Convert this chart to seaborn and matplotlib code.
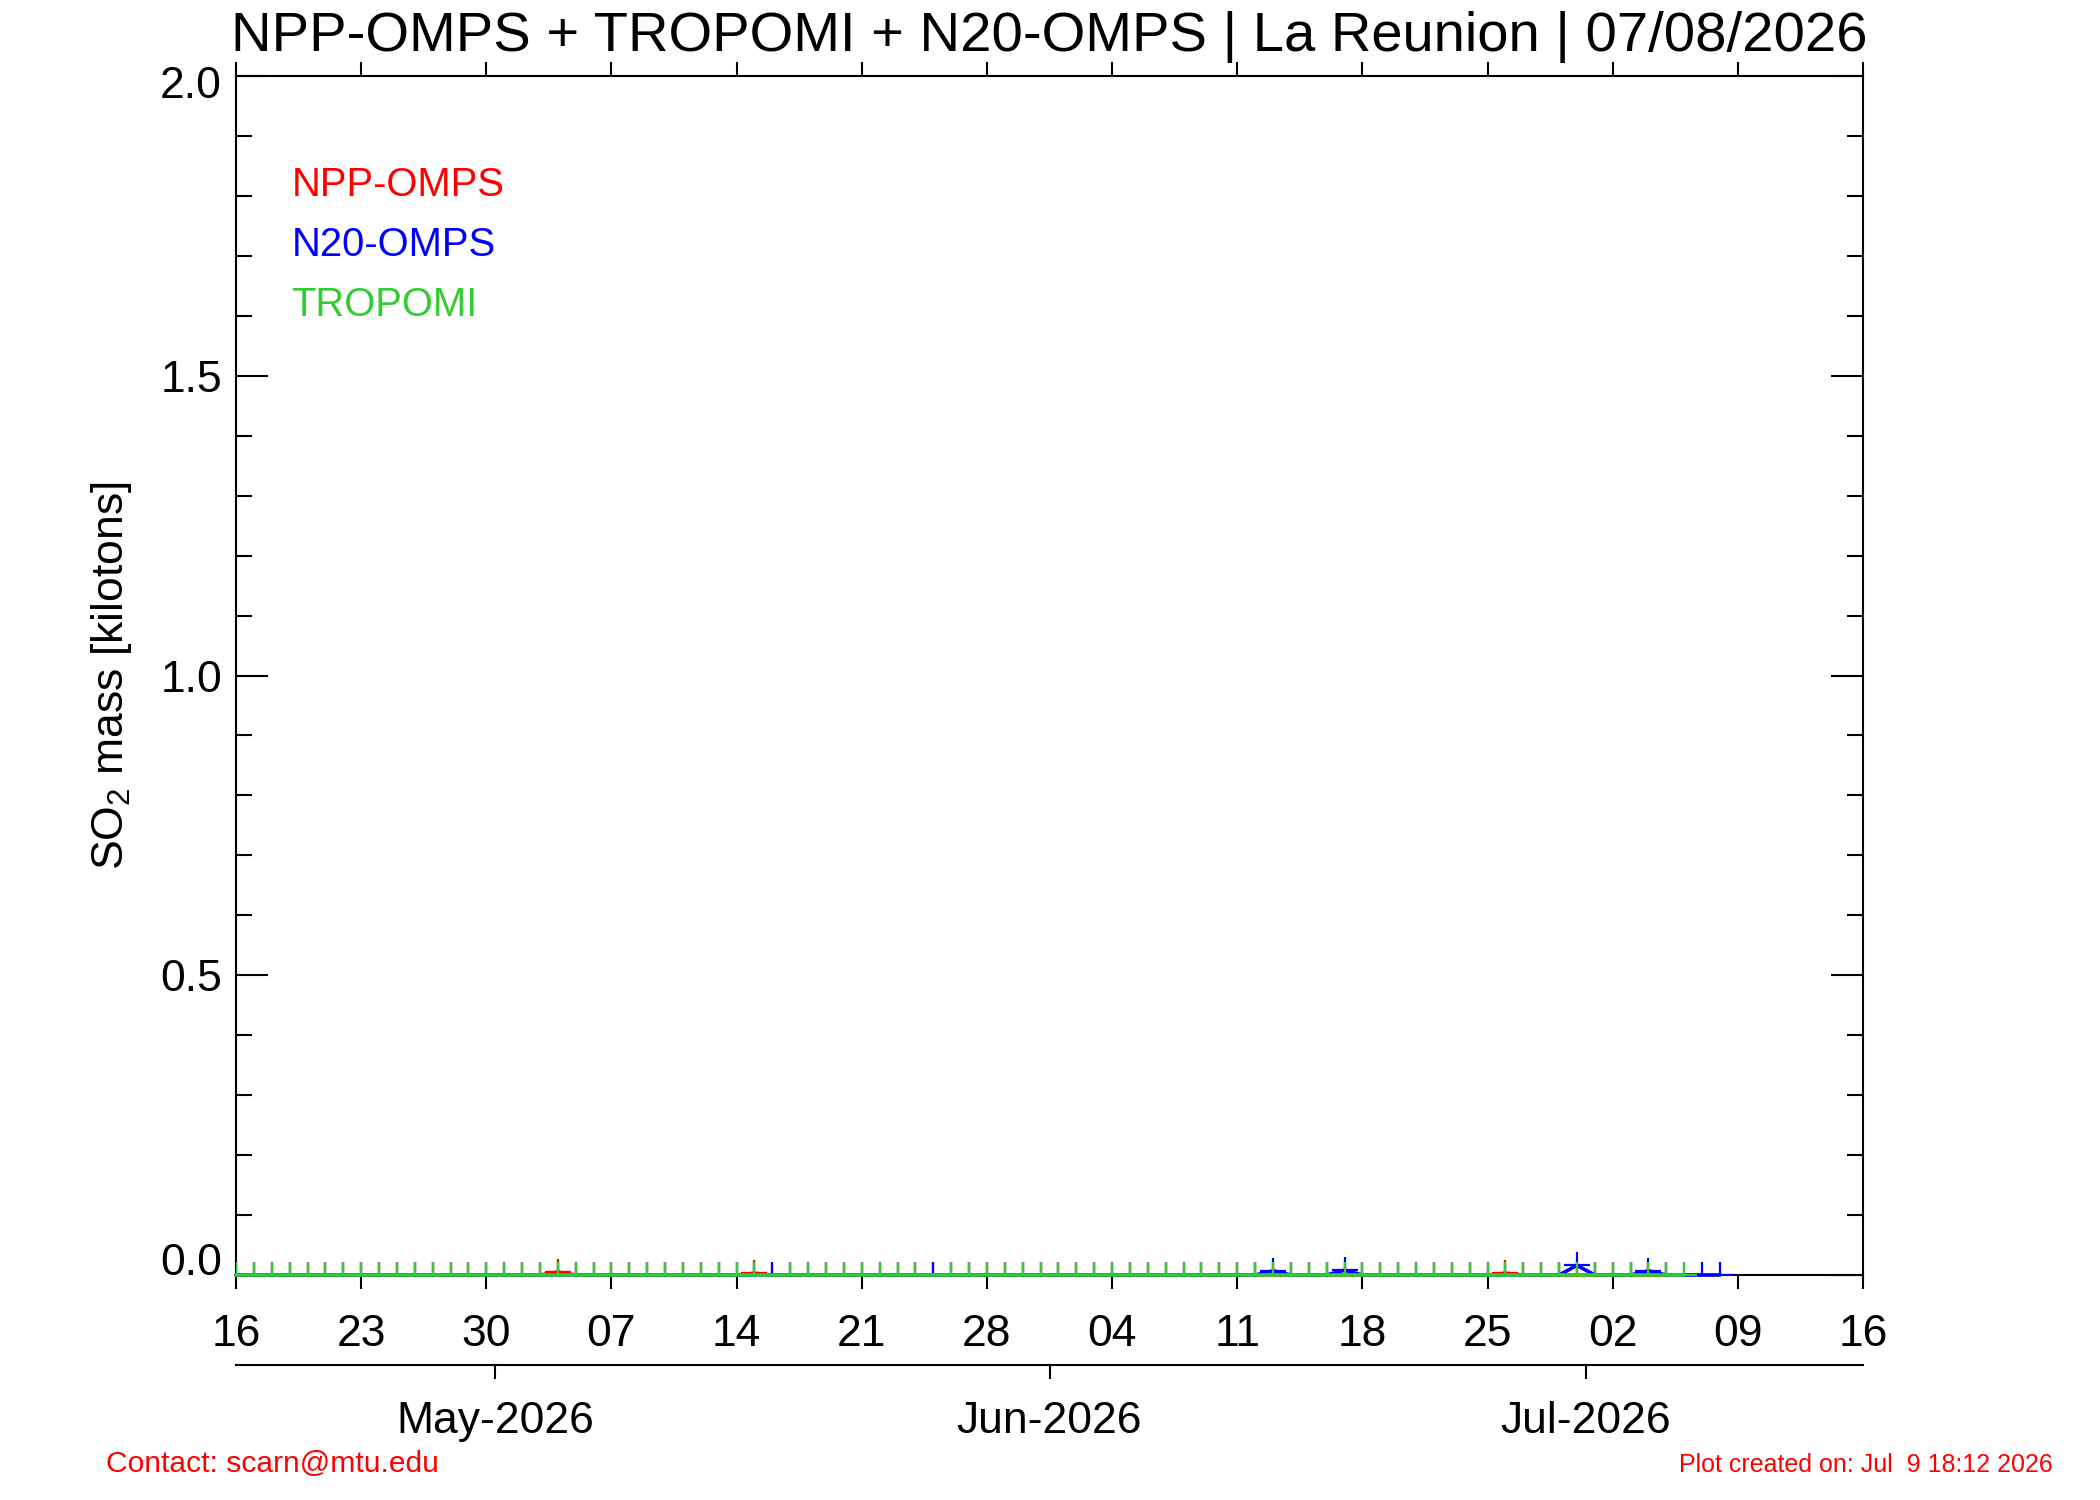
import matplotlib
matplotlib.use("Agg")
import matplotlib.pyplot as plt
import matplotlib.dates as mdates
import matplotlib.ticker as mticker
import matplotlib.transforms as mtransforms
import numpy as np
import pandas as pd
import seaborn as sns

# ---------------- data ----------------
title = "NPP-OMPS + TROPOMI + N20-OMPS | La Reunion | 07/08/2026"
ylabel = "SO$_2$ mass [kilotons]"
x_start, x_end = "2026-04-16", "2026-07-16"
week_ticks = pd.date_range("2026-04-16", "2026-07-16", freq="7D")
month_ticks = ["2026-05-01", "2026-06-01", "2026-07-01"]
month_labels = ["May-2026", "Jun-2026", "Jul-2026"]
y_ticks = [0.0, 0.5, 1.0, 1.5, 2.0]

# NPP-OMPS: daily 2026-04-16 .. 2026-07-05 (weeks starting Thursday)
npp_start, npp_end = "2026-04-16", "2026-07-05"
npp_values = [
    0.0, 0.0, 0.0, 0.0, 0.0, 0.0, 0.0,
    0.0, 0.0, 0.0, 0.0, 0.0, 0.0, 0.0,
    0.0, 0.0, 0.0, 0.0, 0.005, 0.0, 0.0,
    0.0, 0.0, 0.0, 0.0, 0.0, 0.0, 0.0,
    0.0, 0.003, 0.0, 0.0, 0.0, 0.0, 0.0,
    0.0, 0.0, 0.0, 0.0, 0.0, 0.0, 0.0,
    0.0, 0.0, 0.0, 0.0, 0.0, 0.0, 0.0,
    0.0, 0.0, 0.0, 0.0, 0.0, 0.0, 0.0,
    0.0, 0.0, 0.0, 0.0, 0.0, 0.0, 0.0,
    0.0, 0.0, 0.0, 0.0, 0.0, 0.0, 0.0,
    0.0, 0.003, 0.0, 0.0, 0.0, 0.0, 0.0,
    0.0, 0.0, 0.0, 0.0,
]

# N20-OMPS: daily 2026-04-16 .. 2026-07-08
n20_start, n20_end = "2026-04-16", "2026-07-08"
n20_values = [
    0.0, 0.0, 0.0, 0.0, 0.0, 0.0, 0.0,
    0.0, 0.0, 0.0, 0.0, 0.0, 0.0, 0.0,
    0.0, 0.0, 0.0, 0.0, 0.0, 0.0, 0.0,
    0.0, 0.0, 0.0, 0.0, 0.0, 0.0, 0.0,
    0.0, 0.0, 0.0, 0.0, 0.0, 0.0, 0.0,
    0.0, 0.0, 0.0, 0.0, 0.0, 0.0, 0.0,
    0.0, 0.0, 0.0, 0.0, 0.0, 0.0, 0.0,
    0.0, 0.0, 0.0, 0.0, 0.0, 0.0, 0.0,
    0.0, 0.0, 0.007, 0.0, 0.0, 0.0, 0.008,
    0.0, 0.0, 0.0, 0.0, 0.0, 0.0, 0.0,
    0.0, 0.0, 0.0, 0.0, 0.0, 0.016, 0.0,
    0.0, 0.0, 0.007, 0.0, 0.0, 0.0, 0.0,
]

# TROPOMI: daily 2026-04-16 .. 2026-07-06 (NaN = no data)
tro_start, tro_end = "2026-04-16", "2026-07-06"
tro_values = [
    0.0, 0.0, 0.0, 0.0, 0.0, 0.0, 0.0,
    0.0, 0.0, 0.0, 0.0, 0.0, 0.0, 0.0,
    0.0, 0.0, 0.0, 0.0, 0.0, 0.0, 0.0,
    0.0, 0.0, 0.0, 0.0, 0.0, 0.0, 0.0,
    0.0, 0.0, np.nan, 0.0, 0.0, 0.0, 0.0,
    0.0, 0.0, 0.0, 0.0, np.nan, 0.0, 0.0,
    0.0, 0.0, 0.0, 0.0, 0.0, 0.0, 0.0,
    0.0, 0.0, 0.0, 0.0, 0.0, 0.0, 0.0,
    0.0, 0.0, 0.0, 0.0, 0.0, 0.0, 0.0,
    0.0, 0.0, 0.0, 0.0, 0.0, 0.0, 0.0,
    0.0, 0.0, 0.0, 0.0, 0.0, 0.0, 0.0,
    0.0, 0.0, 0.0, 0.0, 0.0,
]

series_names = ["NPP-OMPS", "N20-OMPS", "TROPOMI"]
series_colors = ["#ff0000", "#0000ff", "#32cd32"]

# ---------------- style ----------------
sns.set_theme(style="white")
plt.rcParams["font.family"] = ["Liberation Sans", "DejaVu Sans"]
plt.rcParams["mathtext.fontset"] = "custom"
plt.rcParams["mathtext.rm"] = "Liberation Sans"
plt.rcParams["mathtext.it"] = "Liberation Sans:italic"
plt.rcParams["mathtext.default"] = "regular"
plt.rcParams["text.color"] = "black"
plt.rcParams["axes.labelcolor"] = "black"
plt.rcParams["xtick.color"] = "black"
plt.rcParams["ytick.color"] = "black"

W, H = 2100, 1500
fig = plt.figure(figsize=(10.5, 7.5), dpi=200)
L, R, T, B = 236, 1863, 76, 1275
ax = fig.add_axes([L / W, 1 - B / H, (R - L) / W, (B - T) / H])

frames = [
    pd.DataFrame({"date": pd.date_range(npp_start, npp_end, freq="D"), "mass": npp_values}),
    pd.DataFrame({"date": pd.date_range(n20_start, n20_end, freq="D"), "mass": n20_values}),
    pd.DataFrame({"date": pd.date_range(tro_start, tro_end, freq="D"), "mass": tro_values}),
]

for i, (df, col) in enumerate(zip(frames, series_colors)):
    df = df.dropna()
    sns.lineplot(data=df, x="date", y="mass", color=col, lw=1.3, ax=ax,
                 estimator=None, errorbar=None, clip_on=False, zorder=3 + i)
    sns.scatterplot(data=df, x="date", y="mass", color=col, marker="+",
                    s=9.4 ** 2, linewidth=0.8, ax=ax, zorder=3 + i, legend=False)

ax.set_xlim(pd.Timestamp(x_start), pd.Timestamp(x_end))
ax.set_ylim(0, 2.0)

ax.xaxis.set_major_locator(mticker.FixedLocator(mdates.date2num(week_ticks)))
ax.xaxis.set_major_formatter(mdates.DateFormatter("%d"))
ax.yaxis.set_major_locator(mticker.FixedLocator(y_ticks))
ax.yaxis.set_minor_locator(mticker.MultipleLocator(0.1))
ax.yaxis.set_major_formatter(mticker.FormatStrFormatter("%.1f"))

ax.tick_params(axis="x", which="major", direction="out", length=5, width=0.75,
               top=True, bottom=True, labelsize=16, pad=9)
ax.tick_params(axis="y", which="major", direction="in", length=11.5, width=0.75,
               left=True, right=True, labelsize=16, pad=5)
ax.tick_params(axis="y", which="minor", direction="in", length=5.8, width=0.75,
               left=True, right=True)
for s in ax.spines.values():
    s.set_color("black")
    s.set_linewidth(0.75)
ax.set_xlabel("")
ax.set_ylabel(ylabel, fontsize=16, va="center")
ax.yaxis.set_label_coords((112 - L) / (R - L), 0.5)

ax.set_title(title, fontsize=20.2, y=1 + 25 / (B - T), pad=0, va="baseline",
             color="black")

legend_y = [0.909, 0.859, 0.809]
for name, col, yy in zip(series_names, series_colors, legend_y):
    ax.text(0.034, yy, name, color=col, fontsize=14.4, va="center", ha="left",
            transform=ax.transAxes)

# month axis (IDL-style month boundaries at the half-day)
ax2 = fig.add_axes([L / W, 1 - 1365 / H, (R - L) / W, 1e-6])
ax2.set_xlim(mdates.date2num(pd.Timestamp(x_start)), mdates.date2num(pd.Timestamp(x_end)))
ax2.set_xticks(mdates.date2num(pd.to_datetime(month_ticks)) - 0.5)
ax2.set_xticklabels(month_labels)
ax2.set_yticks([])
for k in ["left", "right", "top"]:
    ax2.spines[k].set_visible(False)
ax2.spines["bottom"].set_color("black")
ax2.spines["bottom"].set_linewidth(0.75)
ax2.patch.set_visible(False)
ax2.tick_params(axis="x", direction="out", length=5, width=0.75, labelsize=16,
                pad=8, bottom=True)

fig.text(106 / W, 1 - 1472 / H, "Contact: scarn@mtu.edu", color="red",
         fontsize=10.8, va="baseline", ha="left")
fig.text(2053 / W, 1 - 1472 / H, "Plot created on: Jul  9 18:12 2026", color="red",
         fontsize=9, va="baseline", ha="right")

fig.canvas.draw()
for tick in ax.yaxis.get_major_ticks():
    loc = tick.get_loc()
    if abs(loc - 0.0) < 1e-9:
        tick.label1.set_va("baseline")
    elif abs(loc - 2.0) < 1e-9:
        tick.label1.set_va("center")
        tick.label1.set_transform(
            tick.label1.get_transform()
            + mtransforms.ScaledTranslation(0, -10 / 200, fig.dpi_scale_trans))

fig.savefig("out.png", dpi=200, facecolor="white")
